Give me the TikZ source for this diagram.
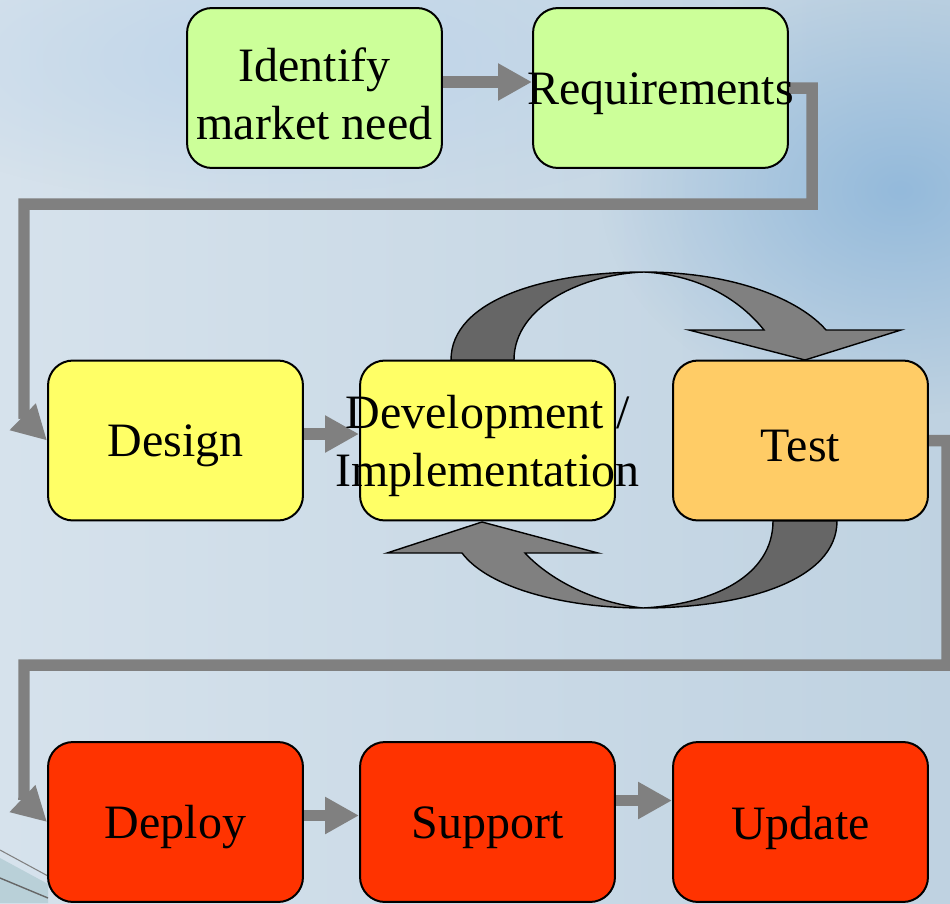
\documentclass[tikz,border=0pt]{standalone}
\usepackage{fontspec}
\setmainfont{Liberation Serif}
\usetikzlibrary{arrows.meta}
\usetikzlibrary{fadings}
\definecolor{greenbox}{HTML}{CCFF99}
\definecolor{yellowbox}{HTML}{FFFF66}
\definecolor{orangebox}{HTML}{FFCC66}
\definecolor{redbox}{HTML}{FF3300}
\definecolor{flowgray}{HTML}{808080}
\definecolor{loopdark}{HTML}{666666}
\definecolor{bgleft}{HTML}{D6E2EC}
\definecolor{bgright}{HTML}{BFD2E1}
\definecolor{bgblue}{HTML}{94BADB}
\definecolor{bgtop}{HTML}{BDD4EA}
\definecolor{glass}{HTML}{B9D0D8}
\newcommand{\boxfont}{\fontsize{27.3}{33}\selectfont}
\tikzfading[name=soft spot, inner color=transparent!0, outer color=transparent!100]
\pgfdeclarelayer{backdrop}
\pgfdeclarelayer{links}
\pgfsetlayers{backdrop,links,main}
\tikzset{box/.style = {draw, rounded corners=0.5cm, line width=0.04cm,
                       inner sep=0, minimum width=5.1cm, minimum height=3.2cm}}
\tikzset{flow/.style = {draw=flowgray, line width=0.23cm,
                        -{Triangle[length=0.68cm,width=0.7cm]}}}
\tikzset{loop/.style = {draw=black, line width=0.8pt}}
\tikzset{every label/.style = {font=\boxfont, align=center, yshift=-0.11cm}}

\begin{document}
\begin{tikzpicture}[x=0.02cm, y=-0.02cm]
        \useasboundingbox (0,0) rectangle (950,903);
        % backdrop
        \begin{pgfonlayer}{backdrop}
          \shade[left color=bgleft, right color=bgright] (0,0) rectangle (950,903);
          \fill[bgtop, path fading=soft spot, opacity=0.9]
            (300,60) ellipse [x radius=9cm, y radius=3cm];
          \fill[bgblue, path fading=soft spot]
            (900,190) ellipse [x radius=6cm, y radius=4.5cm];
          \fill[glass] (0,858) -- (48,884) -- (48,903) -- (0,903) -- cycle;
          \draw[black!50, line width=0.6pt] (0,850) -- (48,876);
          \draw[black!60, line width=0.8pt] (0,878) -- (48,898);
        \end{pgfonlayer}
        % the boxes
        \node[box, fill=greenbox, label=center:Identify\\market need] (idn) at (314.5,88) {};
        \node[box, fill=greenbox, label=center:Requirements] (req) at (660.5,88) {};
        \node[box, fill=yellowbox, label=center:Design] (des) at (175.5,440.5) {};
        \node[box, fill=yellowbox, label=center:Development /\\Implementation] (dev) at (487.5,440.5) {};
        \node[box, fill=orangebox, label=center:Test] (tst) at (800.5,440.5) {};
        \node[box, fill=redbox, label=center:Deploy] (dpl) at (175.5,822) {};
        \node[box, fill=redbox, label=center:Support] (sup) at (487.5,822) {};
        \node[box, fill=redbox, label=center:Update] (upd) at (800.5,822) {};
        % straight connectors, kept under the boxes
        \begin{pgfonlayer}{links}
          \draw[flow] ([yshift=0.12cm]idn.east) -- ([yshift=0.12cm]req.west);
          \draw[flow] (req.east) -| (812,204) -- (24,204) -- (24,408)
            .. controls (24,418) .. (des.west);
          \draw[flow] ([yshift=0.13cm]des.east) -- ([yshift=0.13cm]dev.west);
          \draw[flow] (tst.east) -| (947,665) -- (24,665) -- (24,790)
            .. controls (24,800) .. (dpl.west);
          \draw[flow] ([yshift=0.13cm]dpl.east) -- ([yshift=0.13cm]sup.west);
          \draw[flow] ([yshift=0.43cm]sup.east) -- ([yshift=0.43cm]upd.west);
        \end{pgfonlayer}
        % loop between development and test
        \draw[loop, fill=loopdark] (451,360) .. controls (451,300) and (545,272) .. (644,272)
          .. controls (585,274) and (514,305) .. (514,360) -- cycle;
        \draw[loop, fill=flowgray] (644,272) .. controls (735,272) and (800,300) .. (826,330)
          -- (901,330) -- (805,360) -- (689,330) -- (764,330)
          .. controls (740,300) and (700,275) .. (644,272) -- cycle;
        \draw[loop, fill=loopdark] (773,521) .. controls (773,575) and (715,604) .. (643,608)
          .. controls (745,608) and (837,580) .. (837,521) -- cycle;
        \draw[loop, fill=flowgray] (643,608) .. controls (570,608) and (490,590) .. (462,553)
          -- (387,553) -- (482,522) -- (598,553) -- (525,553)
          .. controls (550,580) and (595,603) .. (643,608) -- cycle;
      \end{tikzpicture}
\end{document}
